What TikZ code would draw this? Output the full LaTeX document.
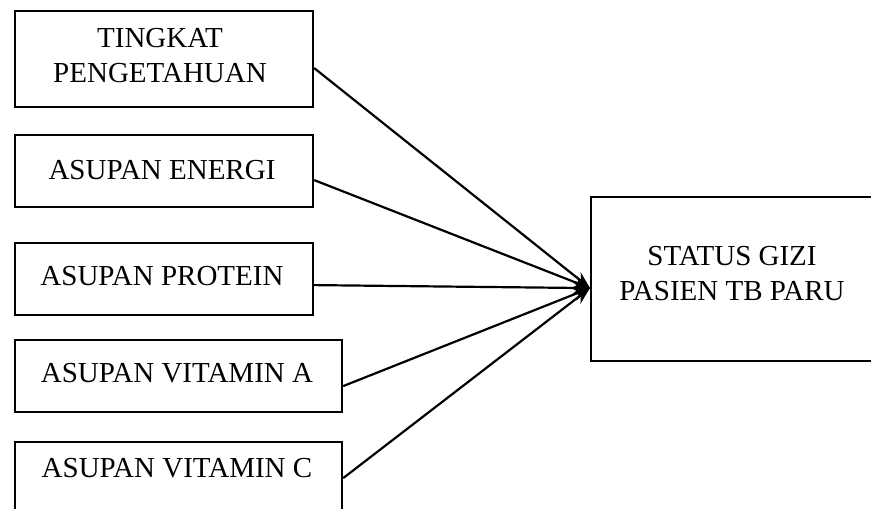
\documentclass[tikz,border=0pt]{standalone}
\usepackage{fontspec}
\setmainfont{Liberation Serif}
\usetikzlibrary{arrows.meta}
\begin{document}
\begin{tikzpicture}[x=1pt,y=-1pt,
  box/.style={draw=black,line width=2.2pt,rectangle,inner sep=0pt,anchor=north west},
  txt/.style={font=\fontsize{29}{35}\selectfont,align=center,inner sep=0pt},
  conn/.style={line width=2.2pt,-{Stealth[length=17pt,width=13pt]}}]
\useasboundingbox (0,0) rectangle (871,509);
\clip (0,0) rectangle (871,509);
\node[box,minimum width=298pt,minimum height=96pt] (b1) at (14,10) {};
\node[box,minimum width=298pt,minimum height=72pt] (b2) at (14,134) {};
\node[box,minimum width=298pt,minimum height=72pt] (b3) at (14,242) {};
\node[box,minimum width=327pt,minimum height=72pt] (b4) at (14,339) {};
\node[box,minimum width=327pt,minimum height=90pt] (b5) at (14,441) {};
\node[box,minimum width=300pt,minimum height=164pt] (s) at (590,196) {};
\node[txt] (t1) at (160,56) {TINGKAT\\PENGETAHUAN};
\node[txt] (t2) at (162,170) {ASUPAN ENERGI};
\node[txt] (t3) at (162,276) {ASUPAN PROTEIN};
\node[txt] (t4) at (177,373) {ASUPAN VITAMIN A};
\node[txt] (t5) at (177,468) {ASUPAN VITAMIN C};
\node[txt] (ts) at (732,274) {STATUS GIZI\\PASIEN TB PARU};
\coordinate (tip) at ([yshift=-9pt]s.west);
\draw[conn] ([yshift=-9pt]b1.east) -- (tip);
\draw[conn] ([yshift=-9pt]b2.east) -- (tip);
\draw[conn] ([yshift=-6pt]b3.east) -- (tip);
\draw[conn] ([yshift=-10pt]b4.east) -- (tip);
\draw[conn] ([yshift=9pt]b5.east) -- (tip);
\end{tikzpicture}
\end{document}
